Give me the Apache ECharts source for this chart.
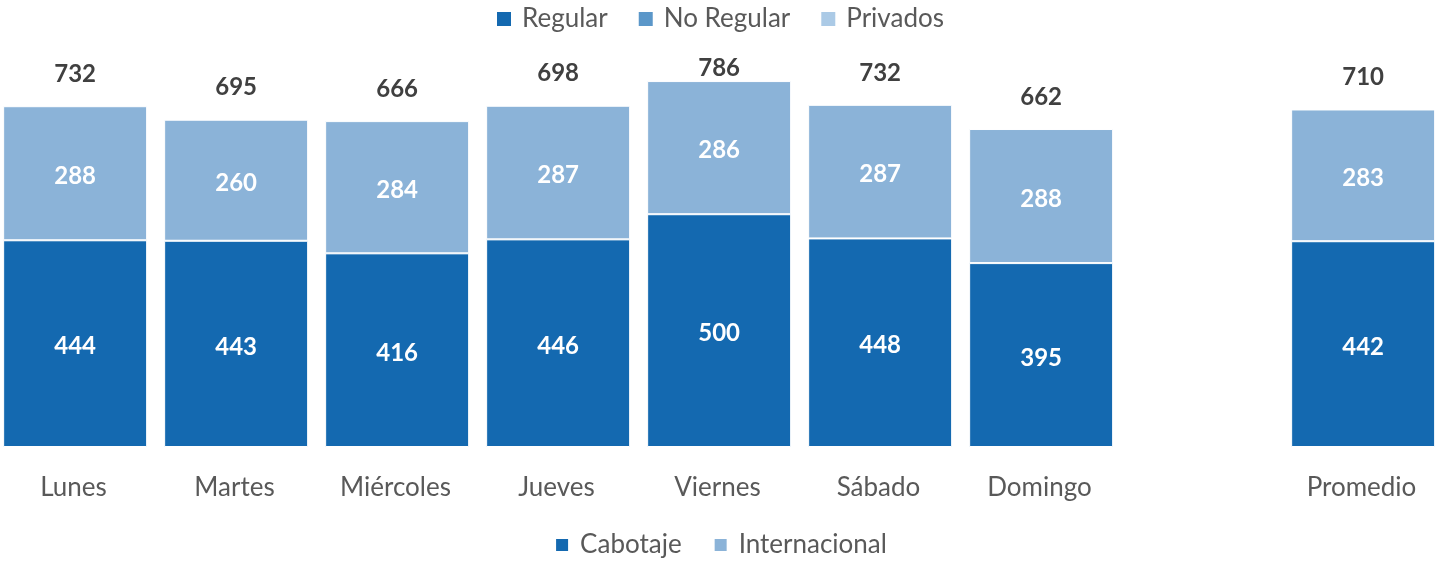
<!DOCTYPE html>
<html>
<head>
<meta charset="utf-8">
<script src="https://cdn.jsdelivr.net/npm/echarts@6/dist/echarts.min.js"></script>
<style>
  html, body { margin: 0; padding: 0; background: #fff; }
  #chart { width: 1441px; height: 563px; }
</style>
</head>
<body>
<div id="chart"></div>
<script>
  // categorias (la posicion vacia separa el promedio)
  const categories = ['Lunes', 'Martes', 'Miércoles', 'Jueves', 'Viernes', 'Sábado', 'Domingo', '', 'Promedio'];
  const cabotaje = [444, 443, 416, 446, 500, 448, 395, '-', 442];
  const internacional = [288, 260, 284, 287, 286, 287, 288, '-', 283];
  const totales = [732, 695, 666, 698, 786, 732, 662, '', 710];

  const FONT = 'Lato, "Open Sans", sans-serif';
  const DARK = '#1469b0';
  const LIGHT = '#8bb3d8';

  // la etiqueta de Viernes va pegada a la barra (como en el original)
  const totalData = categories.map(function (c, i) {
    if (!c) return '-';
    if (totales[i] === 786) return { value: 0, label: { distance: 1 } };
    return 0;
  });

  const legendText = { fontFamily: FONT, fontSize: 26, color: '#595959', padding: [0, 0, 0, 6] };

  const chart = echarts.init(document.getElementById('chart'));
  chart.setOption({
    animation: false,
    grid: { left: -7, width: 1449, top: 28, height: 419, outerBoundsMode: 'none' },
    legend: [
      {
        top: 1, left: 'center', itemWidth: 14, itemHeight: 14, itemGap: 31,
        icon: 'rect', textStyle: legendText,
        data: ['Regular', 'No Regular', 'Privados']
      },
      {
        bottom: 0, left: 'center', itemWidth: 14, itemHeight: 14, itemGap: 31,
        icon: 'rect', textStyle: legendText,
        data: ['Cabotaje', 'Internacional']
      }
    ],
    xAxis: {
      type: 'category',
      data: categories,
      axisLine: { show: false },
      axisTick: { show: false },
      axisLabel: { margin: 28, fontFamily: FONT, fontSize: 26, color: '#595959' }
    },
    yAxis: { type: 'value', min: 0, max: 900, show: false, splitLine: { show: false } },
    series: [
      { name: 'Regular', type: 'bar', data: [], itemStyle: { color: '#1469b0' } },
      { name: 'No Regular', type: 'bar', data: [], itemStyle: { color: '#5b97c9' } },
      { name: 'Privados', type: 'bar', data: [], itemStyle: { color: '#abcae6' } },
      {
        name: 'Cabotaje', type: 'bar', stack: 'dia', barWidth: 144,
        data: cabotaje,
        itemStyle: { color: DARK, borderColor: '#fff', borderWidth: 1 },
        label: { show: true, position: 'inside', offset: [0, 3], color: '#fff', fontFamily: FONT, fontWeight: 'bold', fontSize: 24 }
      },
      {
        name: 'Internacional', type: 'bar', stack: 'dia', barWidth: 144,
        data: internacional,
        itemStyle: { color: LIGHT, borderColor: '#fff', borderWidth: 1 },
        label: { show: true, position: 'inside', offset: [0, 3], color: '#fff', fontFamily: FONT, fontWeight: 'bold', fontSize: 24 }
      },
      {
        name: 'Total', type: 'bar', stack: 'dia', barWidth: 144,
        data: totalData,
        itemStyle: { color: 'transparent' },
        label: {
          show: true, position: 'top', distance: 20,
          color: '#404040', fontFamily: FONT, fontWeight: 'bold', fontSize: 24,
          formatter: function (p) { return totales[p.dataIndex]; }
        }
      }
    ]
  });
</script>
</body>
</html>
